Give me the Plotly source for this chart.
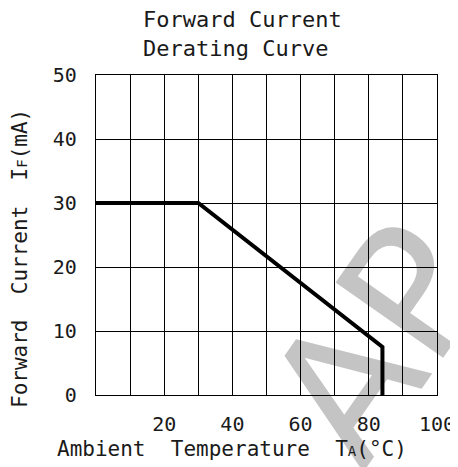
import plotly.graph_objects as go

# Data
temperature = [0, 30, 84, 84]          # Ambient temperature TA (°C)
forward_current = [30, 30, 7.5, 0]     # Forward current IF (mA)

x_tickvals = [0, 10, 20, 30, 40, 50, 60, 70, 80, 90, 100]
x_ticktext = ["", "", "20", "", "40", "", "60", "", "80", "", "100"]
y_tickvals = [0, 10, 20, 30, 40, 50]
y_ticktext = ["0", "10", "20", "30", "40", "50"]

FONT = "DejaVu Sans Mono, monospace"
TXT = "#1a1a1a"
OFF = 8                      # page body margin in the browser
W, H = 458 - OFF, 467 - OFF
# plot area in reference pixels: x 96..437, y 75..395
PL, PR, PT, PB = 96, 437, 75, 395
L, R, T, B = PL - OFF, (W + OFF) - PR, PT - OFF, (H + OFF) - PB


def px_x(p):
    return (p - PL) / (PR - PL)


def px_y(p):
    return (PB - p) / (PB - PT)


fig = go.Figure()
fig.add_trace(go.Scatter(
    x=temperature, y=forward_current, mode="lines",
    line=dict(color="black", width=4), showlegend=False, hoverinfo="skip",
    cliponaxis=False,
))

axis_common = dict(
    showgrid=True, gridcolor="black", gridwidth=1.2,
    showline=True, linecolor="black", linewidth=1.2, mirror=True,
    ticks="", zeroline=False, automargin=False, fixedrange=True,
    tickfont=dict(family=FONT, size=20, color=TXT),
)

fig.update_layout(
    width=W, height=H,
    margin=dict(l=L, r=R, t=T, b=B, autoexpand=False),
    paper_bgcolor="white",
    plot_bgcolor="rgba(0,0,0,0)",
    font=dict(family=FONT, color=TXT, size=21),
    xaxis=dict(range=[0, 100], tickvals=x_tickvals, ticktext=x_ticktext,
               ticklabelstandoff=11, **axis_common),
    yaxis=dict(range=[0, 50], tickvals=y_tickvals, ticktext=y_ticktext,
               ticklabelstandoff=14, **axis_common),
)

# Title (two left-aligned lines)
fig.add_annotation(
    text="Forward Current<br>Derating Curve",
    xref="paper", yref="paper", x=px_x(141), y=px_y(5),
    xanchor="left", yanchor="top", align="left", showarrow=False,
    font=dict(family=FONT, size=22, color=TXT),
)

# Axis titles (offset from plot center as in the reference)
fig.add_annotation(
    text="Ambient  Temperature  T<span style='font-size:14px'>A</span>(°C)",
    xref="paper", yref="paper", x=px_x(232), y=px_y(449),
    xanchor="center", yanchor="middle", showarrow=False,
    font=dict(family=FONT, size=21, color=TXT),
)
fig.add_annotation(
    text="Forward  Current  I<span style='font-size:14px'>F</span>(mA)",
    xref="paper", yref="paper", x=px_x(20), y=px_y(259),
    xanchor="center", yanchor="middle", showarrow=False, textangle=-90,
    font=dict(family=FONT, size=21, color=TXT),
)

# Light-grey watermark, drawn below the grid
fig.add_shape(
    type="rect", xref="paper", yref="paper", layer="below",
    x0=px_x(285), x1=px_x(449), y0=px_y(485), y1=px_y(185),
    line=dict(width=0), fillcolor="rgba(0,0,0,0)",
    label=dict(text="AP", textangle=-55, textposition="middle center",
               font=dict(family="DejaVu Sans", size=180, color="#c4c4c4")),
)

fig.write_html("out.html")
